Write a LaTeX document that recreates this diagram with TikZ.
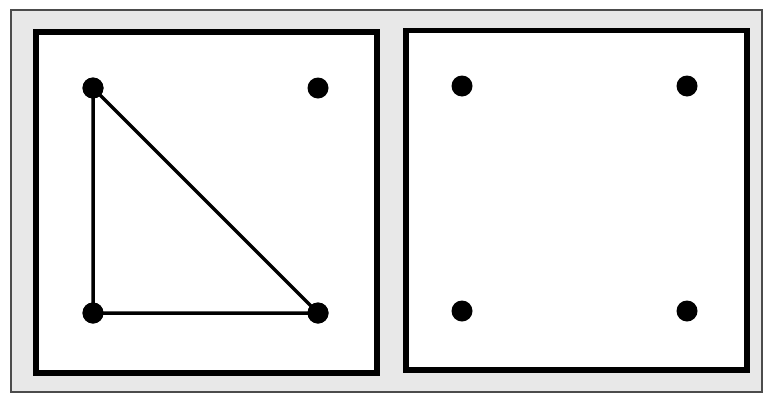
\documentclass[tikz,border=0pt]{standalone}
\begin{document}
\begin{tikzpicture}[x=1pt,y=-1pt,
  panel/.style={draw=black,fill=white,line width=5.5pt},
  dot/.style={circle,fill=black,inner sep=0pt,minimum size=21pt},
  edge/.style={draw=black,line width=3.5pt}]
\useasboundingbox (0,0) rectangle (763,394);
\fill[white] (0,0) rectangle (763,394);
\draw[fill=black!9,draw=black!70,line width=1.5pt] (11,10) rectangle (762,392);
\draw[panel] (36,32) rectangle (377,373);
\draw[panel] (406,30.5) rectangle (747,370);
\node[dot] (a) at (93,88) {};
\node[dot] (b) at (318,88) {};
\node[dot] (c) at (93,313) {};
\node[dot] (d) at (318,313) {};
\draw[edge] (a.center) -- (c.center) -- (d.center) -- cycle;
\node[dot] at (a) {};
\node[dot] at (c) {};
\node[dot] at (d) {};
\node[dot] (e) at (462,86) {};
\node[dot] (f) at (687,86) {};
\node[dot] (g) at (462,311) {};
\node[dot] (h) at (687,311) {};
\end{tikzpicture}
\end{document}
